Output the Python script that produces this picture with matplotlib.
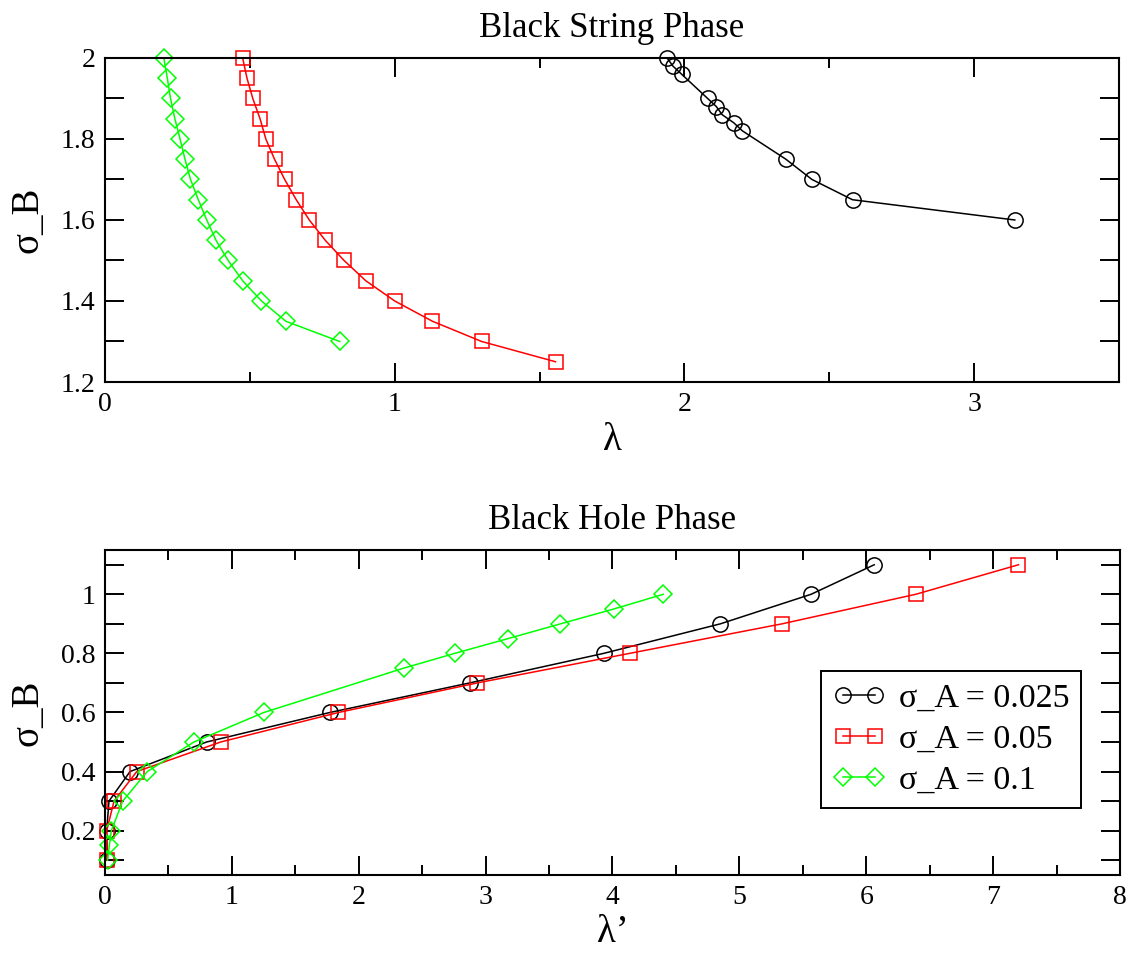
# ────────────────────────────────────────────────────────────────
# sigma_B vs lambda for the black string / black hole phases
# two stacked panels, open markers joined by thin lines
# ────────────────────────────────────────────────────────────────
import numpy as np
import matplotlib
matplotlib.use("Agg")
import matplotlib.pyplot as plt
from matplotlib.ticker import MultipleLocator, FormatStrFormatter

plt.rcParams["font.family"] = ["Liberation Serif", "DejaVu Serif"]

# ── Black String Phase (top) ──
bs_black_x = [1.94, 1.96, 1.99, 2.08, 2.11, 2.13, 2.17, 2.20, 2.35, 2.44, 2.58, 3.14]
bs_black_y = [2.00, 1.98, 1.96, 1.90, 1.88, 1.86, 1.84, 1.82, 1.75, 1.70, 1.65, 1.60]

bs_red_x = [0.475, 0.49, 0.51, 0.535, 0.555, 0.585, 0.62, 0.66, 0.705, 0.76,
            0.825, 0.90, 1.00, 1.13, 1.30, 1.555]
bs_red_y = [2.00, 1.95, 1.90, 1.85, 1.80, 1.75, 1.70, 1.65, 1.60, 1.55,
            1.50, 1.45, 1.40, 1.35, 1.30, 1.25]

bs_green_x = [0.203, 0.215, 0.226, 0.241, 0.259, 0.276, 0.295, 0.322, 0.351,
              0.383, 0.425, 0.475, 0.540, 0.624, 0.810]
bs_green_y = [2.00, 1.95, 1.90, 1.85, 1.80, 1.75, 1.70, 1.65, 1.60,
              1.55, 1.50, 1.45, 1.40, 1.35, 1.30]

# ── Black Hole Phase (bottom) ──
bh_black_x = [0.018, 0.013, 0.031, 0.197, 0.80, 1.772, 2.874, 3.93, 4.85, 5.565, 6.063]
bh_black_y = [0.1, 0.2, 0.3, 0.4, 0.5, 0.6, 0.7, 0.8, 0.9, 1.0, 1.1]

bh_red_x = [0.015, 0.013, 0.071, 0.25, 0.911, 1.84, 2.934, 4.134, 5.336, 6.39, 7.20]
bh_red_y = [0.1, 0.2, 0.3, 0.4, 0.5, 0.6, 0.7, 0.8, 0.9, 1.0, 1.1]

bh_green_x = [0.02, 0.034, 0.05, 0.139, 0.333, 0.70, 1.252, 2.354, 2.756,
              3.176, 3.59, 4.008, 4.40]
bh_green_y = [0.1, 0.15, 0.2, 0.3, 0.4, 0.5, 0.6, 0.75, 0.8,
              0.85, 0.9, 0.95, 1.0]

labels = ["σ_A = 0.025", "σ_A = 0.05", "σ_A = 0.1"]

# ────────────────────────────────────────────────────────────────
# styles
# ────────────────────────────────────────────────────────────────
styles = [
    dict(color="black",   marker="o", ms=11.0),
    dict(color="#ff0000", marker="s", ms=10.0),
    dict(color="#00ff00", marker="D", ms=9.6),
]
LW = 1.1


def draw(ax, x, y, st, label=None):
    ax.plot(x, y, color=st["color"], lw=LW, marker=st["marker"],
            ms=st["ms"], mfc="none", mec=st["color"], mew=1.1,
            label=label, clip_on=False)


def style_axes(ax, xmajor, xminor, ymajor, yminor):
    ax.xaxis.set_major_locator(MultipleLocator(xmajor))
    ax.xaxis.set_minor_locator(MultipleLocator(xminor))
    ax.yaxis.set_major_locator(MultipleLocator(ymajor))
    ax.yaxis.set_minor_locator(MultipleLocator(yminor))
    ax.xaxis.set_major_formatter(FormatStrFormatter("%g"))
    ax.yaxis.set_major_formatter(FormatStrFormatter("%g"))
    ax.tick_params(which="both", direction="in", top=True, right=True,
                   width=1.4, labelsize=20, pad=7)
    ax.tick_params(axis="x", which="major", length=14)
    ax.tick_params(axis="x", which="minor", length=7)
    ax.tick_params(axis="y", which="both", length=14)
    for sp in ax.spines.values():
        sp.set_linewidth(1.5)


fig = plt.figure(figsize=(11.33, 9.55), dpi=100)

# ── top panel ──
ax1 = fig.add_axes([0.0927, 0.600, 0.8950, 0.3393])
draw(ax1, bs_black_x, bs_black_y, styles[0])
draw(ax1, bs_red_x, bs_red_y, styles[1])
draw(ax1, bs_green_x, bs_green_y, styles[2])
ax1.set_xlim(0, 3.5)
ax1.set_ylim(1.2, 2.0)
style_axes(ax1, 1, 0.5, 0.2, 0.1)
ax1.set_title("Black String Phase", fontsize=25, pad=15)
ax1.set_xlabel("λ", fontsize=28, labelpad=4)
ax1.set_ylabel("σ_B", fontsize=28, labelpad=10)

# ── bottom panel ──
ax2 = fig.add_axes([0.0927, 0.0838, 0.8958, 0.3403])
draw(ax2, bh_black_x, bh_black_y, styles[0], labels[0])
draw(ax2, bh_red_x, bh_red_y, styles[1], labels[1])
draw(ax2, bh_green_x, bh_green_y, styles[2], labels[2])
ax2.set_xlim(0, 8)
ax2.set_ylim(0.05, 1.15)
style_axes(ax2, 1, 0.5, 0.2, 0.1)
ax2.set_yticks([0.2, 0.4, 0.6, 0.8, 1.0])
ax2.set_title("Black Hole Phase", fontsize=25, pad=15)
ax2.set_xlabel("λ’", fontsize=28, labelpad=3)
ax2.set_ylabel("σ_B", fontsize=28, labelpad=10)

leg = ax2.legend(loc="upper left", bbox_to_anchor=(0.705, 0.628),
                 borderaxespad=0, numpoints=2, fontsize=24.5,
                 handlelength=1.55, handletextpad=0.4, labelspacing=0.3,
                 borderpad=0.35, fancybox=False, framealpha=1,
                 edgecolor="black")
leg.get_frame().set_linewidth(1.4)

fig.savefig("out.png", dpi=100)
